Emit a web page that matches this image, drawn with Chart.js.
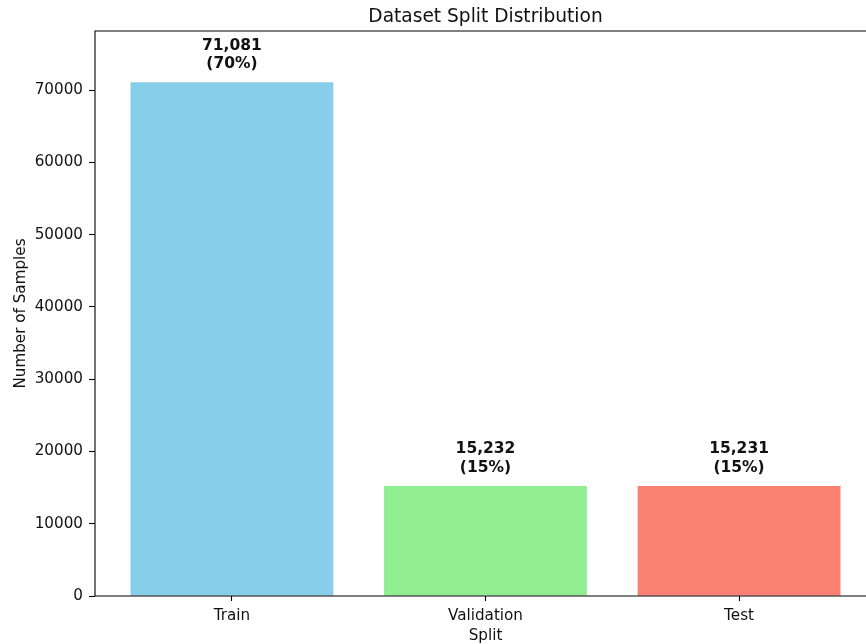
<!DOCTYPE html>
<html>
<head>
<meta charset="utf-8">
<script src="https://cdn.jsdelivr.net/npm/chart.js@4/dist/chart.umd.min.js"></script>
<style>
  html, body { margin: 0; padding: 0; background: #fff; overflow: hidden; width: 866px; height: 644px; }
  #wrap { width: 866px; height: 644px; overflow: hidden; position: relative; }
  canvas { display: block; }
</style>
</head>
<body>
<div id="wrap"><canvas id="c" width="880" height="644"></canvas></div>
<script>
// Samples per dataset split
const splits = ['Train', 'Validation', 'Test'];
const sampleCounts = [71081, 15232, 15231];
const barColors = ['#87CEEB', '#90EE90', '#FA8072'];
const yTickValues = [0, 10000, 20000, 30000, 40000, 50000, 60000, 70000];

const total = sampleCounts.reduce((a, b) => a + b, 0);
const FONT = "'DejaVu Sans', sans-serif";
const INK = '#111';

// Value labels above bars, frame, title and axis titles
const annotate = {
  id: 'annotate',
  afterDatasetsDraw(chart) {
    const { ctx, chartArea: a } = chart;
    ctx.save();
    ctx.fillStyle = INK;
    ctx.textAlign = 'center';
    ctx.textBaseline = 'middle';
    ctx.font = `bold 15.5px ${FONT}`;
    chart.getDatasetMeta(0).data.forEach((bar, i) => {
      const pct = Math.round(sampleCounts[i] / total * 100);
      ctx.fillText(sampleCounts[i].toLocaleString('en-US'), bar.x, bar.y - 36.5);
      ctx.fillText(`(${pct}%)`, bar.x, bar.y - 18);
    });

    ctx.strokeStyle = '#000';
    ctx.lineWidth = 1.1;
    ctx.beginPath();
    ctx.moveTo(a.left, a.top);
    ctx.lineTo(a.right, a.top);
    ctx.lineTo(a.right, a.bottom);
    ctx.lineTo(a.left, a.bottom);
    ctx.closePath();
    ctx.stroke();

    ctx.textBaseline = 'alphabetic';
    ctx.font = `18.6px ${FONT}`;
    ctx.fillText('Dataset Split Distribution', (a.left + a.right) / 2, 22);
    ctx.font = `15.2px ${FONT}`;
    ctx.fillText('Split', (a.left + a.right) / 2, 640);
    ctx.translate(25, (a.top + a.bottom) / 2);
    ctx.rotate(-Math.PI / 2);
    ctx.fillText('Number of Samples', 0, 0);
    ctx.restore();
  }
};

new Chart(document.getElementById('c'), {
  type: 'bar',
  data: {
    datasets: [{
      data: sampleCounts.map((v, i) => ({ x: i, y: v })),
      backgroundColor: barColors,
      borderWidth: 0,
      categoryPercentage: 1,
      barPercentage: 0.8
    }]
  },
  options: {
    responsive: false,
    animation: false,
    layout: { padding: { top: 31, right: 4, left: 0, bottom: 0 } },
    plugins: {
      legend: { display: false },
      tooltip: { enabled: false },
      title: { display: false }
    },
    scales: {
      x: {
        type: 'linear',
        min: -0.54,
        max: 2.54,
        offset: false,
        border: { display: false },
        grid: { offset: false, drawOnChartArea: false, drawTicks: true, tickLength: 5, tickColor: '#000', tickWidth: 1.1 },
        ticks: {
          color: INK,
          padding: 6,
          font: { family: FONT, size: 15.2 },
          maxRotation: 0,
          autoSkip: false,
          callback: v => splits[v]
        },
        afterBuildTicks: s => { s.ticks = splits.map((_, i) => ({ value: i })); },
        afterFit: s => { s.height = 48; }
      },
      y: {
        min: 0,
        max: Math.max(...sampleCounts) * 1.1,
        border: { display: false },
        grid: { drawOnChartArea: false, drawTicks: true, tickLength: 6, tickColor: '#000', tickWidth: 1.1 },
        ticks: {
          color: INK,
          padding: 6,
          font: { family: FONT, size: 15.2 },
          callback: v => String(v)
        },
        afterBuildTicks: s => { s.ticks = yTickValues.map(v => ({ value: v })); },
        afterFit: s => { s.width = 95; }
      }
    }
  },
  plugins: [annotate]
});
</script>
</body>
</html>
